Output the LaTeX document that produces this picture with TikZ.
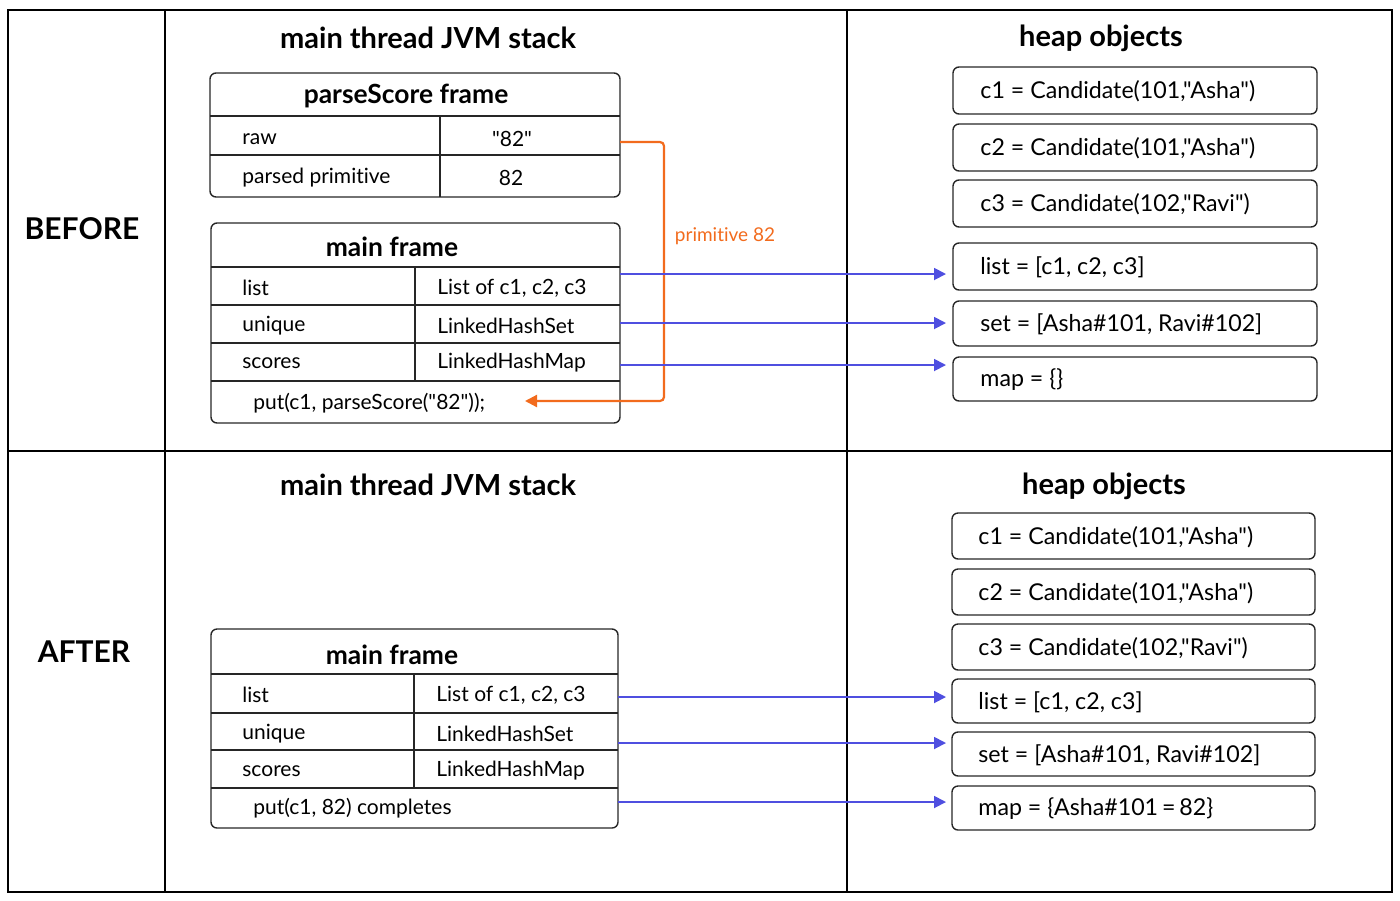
\documentclass[tikz,border=0pt]{standalone}
\usepackage{fontspec}
\setmainfont{Lato}[Ligatures={NoCommon}, Mapping=]
\usetikzlibrary{arrows.meta}
\newcommand{\dq}{\char34\relax}
\definecolor{refblue}{HTML}{4F4FE0}
\definecolor{primorange}{HTML}{F26B1D}
\tikzset{
  frame/.style={draw=black!85, line width=0.7pt, rounded corners=3pt},
  rowline/.style={draw=black!85, line width=0.7pt},
  title/.style={font=\fontsize{14.5}{17}\selectfont\bfseries},
  fhead/.style={font=\fontsize{13.2}{16}\selectfont\bfseries},
  side/.style={font=\fontsize{15}{18}\selectfont\bfseries},
  cell/.style={anchor=west, inner sep=0pt, font=\fontsize{10.5}{12}\selectfont},
  heap/.style={anchor=west, inner sep=0pt, font=\fontsize{11.6}{13}\selectfont},
  ref/.style={draw=refblue, line width=0.9pt, -{Triangle[length=6pt,width=6pt]}},
  prim/.style={draw=primorange, line width=1.1pt, rounded corners=2pt, -{Triangle[length=6pt,width=6pt]}}
}
\begin{document}
\begin{tikzpicture}[x=0.5pt,y=-0.5pt]
\useasboundingbox (0,0) rectangle (1400,900);
% panels
\draw[line width=0.7pt] (8,10) rectangle (1392,892);
\draw[line width=0.7pt] (8,451) -- (1392,451);
\draw[line width=0.7pt] (165,10) -- (165,892) (847,10) -- (847,892);
\node[side] (before) at (82,229) {BEFORE};
\node[side] (after) at (84,652) {AFTER};
\node[title] (stackA) at (428,38) {main thread JVM stack};
\node[title] (heapA) at (1101,38) {heap objects};
\node[title] (stackB) at (428,485) {main thread JVM stack};
\node[title] (heapB) at (1104,486) {heap objects};

% parseScore frame
\draw[frame] (210,73) rectangle (620,197);
\draw[rowline] (210,116) -- (620,116) (210,155) -- (620,155) (440,116) -- (440,197);
\node[fhead] (pHead) at (406,96) {parseScore frame};
\node[cell] (pRaw) at (242,139) {raw};
\node[cell, anchor=center] (pRawV) at (512,139) {\dq82\dq};
\node[cell] (pParsed) at (242,178) {parsed primitive};
\node[cell, anchor=center] (pParsedV) at (511,178) {82};
\coordinate (pOut) at (620,142);

% main frame (before)
\draw[frame] (211,223) rectangle (620,423);
\draw[rowline] (211,267) -- (620,267) (211,305) -- (620,305) (211,343) -- (620,343)
  (211,381) -- (620,381) (415,267) -- (415,381);
\node[fhead] (mHead) at (392,247) {main frame};
\node[cell] (mList) at (242,288) {list};
\node[cell] (mListV) at (437,288) {List of c1, c2, c3};
\node[cell] (mUnique) at (242,326) {unique};
\node[cell] (mUniqueV) at (437,326) {LinkedHashSet};
\node[cell] (mScores) at (242,363) {scores};
\node[cell] (mScoresV) at (437,363) {LinkedHashMap};
\node[cell] (mPut) at (253,403) {put(c1, parseScore(\dq82\dq));};
\coordinate (mListOut) at (620,274);
\coordinate (mUniqueOut) at (620,323);
\coordinate (mScoresOut) at (620,365);

% heap (before)
\foreach \name/\ya/\yb/\txt in {hc1/67/114/{c1 = Candidate(101,\dq Asha\dq)},
    hc2/124/171/{c2 = Candidate(101,\dq Asha\dq)},
    hc3/180/227/{c3 = Candidate(102,\dq Ravi\dq)},
    hlist/243/290/{list = [c1, c2, c3]},
    hset/301/346/{set = [Asha\#101, Ravi\#102]},
    hmap/357/401/{map = \{\}}}{
  \draw[frame] (953,\ya) rectangle (1317,\yb);
  \node[heap] (\name) at (980,{(\ya+\yb)/2+1}) {\txt};
}
\coordinate (hlistIn) at (946,274);
\coordinate (hsetIn) at (946,323);
\coordinate (hmapIn) at (946,365);

\draw[prim] (pOut) -- (664,142) -- (664,401) -- (525,401);
\node[font=\fontsize{9.5}{11}\selectfont, text=primorange] (primLabel) at (725,236) {primitive 82};
\draw[ref] (mListOut) -- (hlistIn);
\draw[ref] (mUniqueOut) -- (hsetIn);
\draw[ref] (mScoresOut) -- (hmapIn);

% main frame (after)
\draw[frame] (211,629) rectangle (618,828);
\draw[rowline] (211,674) -- (618,674) (211,713) -- (618,713) (211,750) -- (618,750)
  (211,788) -- (618,788) (414,674) -- (414,788);
\node[fhead] (nHead) at (392,655) {main frame};
\node[cell] (nList) at (242,695) {list};
\node[cell] (nListV) at (436,695) {List of c1, c2, c3};
\node[cell] (nUnique) at (242,734) {unique};
\node[cell] (nUniqueV) at (436,734) {LinkedHashSet};
\node[cell] (nScores) at (242,771) {scores};
\node[cell] (nScoresV) at (436,771) {LinkedHashMap};
\node[cell] (nPut) at (253,808) {put(c1, 82) completes};
\coordinate (nListOut) at (618,697);
\coordinate (nUniqueOut) at (618,743);
\coordinate (nScoresOut) at (618,802);

% heap (after)
\foreach \name/\ya/\yb/\txt in {kc1/513/559/{c1 = Candidate(101,\dq Asha\dq)},
    kc2/569/615/{c2 = Candidate(101,\dq Asha\dq)},
    kc3/624/670/{c3 = Candidate(102,\dq Ravi\dq)},
    klist/679/723/{list = [c1, c2, c3]},
    kset/732/776/{set = [Asha\#101, Ravi\#102]},
    kmap/786/830/{map = \{Asha\#101\,=\,82\}}}{
  \draw[frame] (952,\ya) rectangle (1315,\yb);
  \node[heap] (\name) at (978,{(\ya+\yb)/2+1}) {\txt};
}
\coordinate (klistIn) at (946,697);
\coordinate (ksetIn) at (946,743);
\coordinate (kmapIn) at (946,802);

\draw[ref] (nListOut) -- (klistIn);
\draw[ref] (nUniqueOut) -- (ksetIn);
\draw[ref] (nScoresOut) -- (kmapIn);
\end{tikzpicture}
\end{document}
